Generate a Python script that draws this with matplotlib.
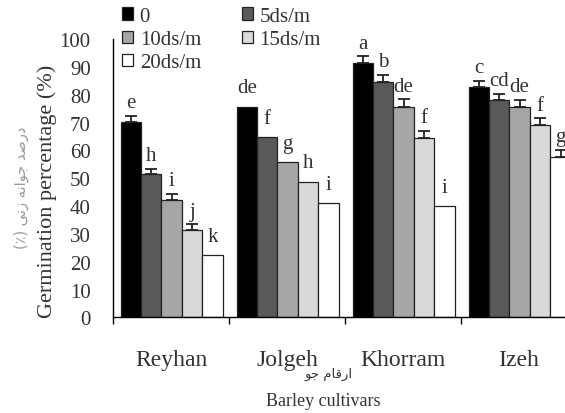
import matplotlib
matplotlib.use("Agg")
import matplotlib.pyplot as plt
import numpy as np

plt.rcParams["font.family"] = ["Liberation Serif", "DejaVu Sans"]

cultivars = ["Reyhan", "Jolgeh", "Khorram", "Izeh"]
levels = ["0", "5ds/m", "10ds/m", "15ds/m", "20ds/m"]
colors = ["#000000", "#595959", "#a6a6a6", "#d9d9d9", "#ffffff"]

# germination % per salinity level (rows) for each cultivar (columns)
germ = [
    [70.1, 75.7, 91.3, 82.7],
    [51.5, 64.9, 84.7, 78.0],
    [42.2, 55.7, 75.7, 75.7],
    [31.4, 48.8, 64.3, 69.1],
    [22.4, 41.0, 40.1, 57.7],
]
err = [
    [2.3, 0.0, 2.5, 2.2],
    [1.8, 0.0, 2.5, 2.4],
    [2.2, 0.0, 2.6, 2.4],
    [2.0, 0.0, 2.7, 2.4],
    [0.0, 0.0, 0.0, 2.5],
]
letters = [
    ["e", "de", "a", "c"],
    ["h", "f", "b", "cd"],
    ["i", "g", "de", "de"],
    ["j", "h", "f", "f"],
    ["k", "i", "i", "g"],
]

# Persian labels, pre-shaped (presentation forms, visual order)
fa_ylabel = "(\u066A) \uFEF0\uFEE7\uFEAF \uFEEA\uFEE7\uFE8D\uFEEE\uFE9F \uFEAA\uFEBB\uFEAD\uFEA9"
fa_xlabel = "\uFEEE\uFE9F \uFEE1\uFE8E\uFED7\uFEAD\uFE8D"

txt = "#333333"
fig = plt.figure(figsize=(5.65, 4.14), dpi=100)
ax = fig.add_axes([0.2, 0.2307, 0.8212, 0.6727])

centers = np.arange(len(cultivars)) + 0.5
width = 0.176
handles = []
for j, lvl in enumerate(levels):
    xs = centers + (j - 2) * width + 0.006
    b = ax.bar(xs, germ[j], width, color=colors[j], edgecolor="#222222",
               linewidth=0.9, label=lvl, zorder=2)
    handles.append(b)
    e = np.array(err[j])
    m = e > 0
    ax.errorbar(xs[m], np.array(germ[j])[m], yerr=[np.zeros(m.sum()), e[m]],
                fmt="none", ecolor="#222222", elinewidth=1.3, capsize=4,
                capthick=1.3, zorder=3)
    for k, x in enumerate(xs):
        top = germ[j][k] + err[j][k] + (1.3 if err[j][k] > 0 else 3.3)
        ax.text(x, top, letters[j][k], ha="center", va="bottom",
                fontsize=15, color=txt)

ax.set_xlim(0, 4)
ax.set_ylim(0, 100)
ax.set_yticks(np.arange(0, 101, 10))
ax.tick_params(axis="y", length=0, pad=16, labelsize=15, labelcolor=txt)
ax.set_xticks(np.arange(0, 5))
ax.set_xticklabels([])
ax.set_xticks(centers, minor=True)
ax.set_xticklabels(cultivars, minor=True)
ax.tick_params(axis="x", which="major", length=5, direction="out", width=1)
ax.tick_params(axis="x", which="minor", length=0, pad=23, labelsize=17,
               labelcolor=txt)
for s in ["top", "right"]:
    ax.spines[s].set_visible(False)
ax.spines["left"].set_linewidth(1)
ax.spines["bottom"].set_linewidth(1)

fig.text(47 / 565, 0.537, "Germination percentage (%)", rotation=90,
         ha="center", va="center", fontsize=16, color=txt)
fig.text(21 / 565, 0.547, fa_ylabel, rotation=90, ha="center", va="center",
         fontsize=10.5, color="#999999", family="DejaVu Sans")
fig.text(328 / 565, 1 - 374 / 414, fa_xlabel, ha="center", va="center",
         fontsize=9.5, color=txt, family="DejaVu Sans")
fig.text(323 / 565, 1 - 402 / 414, "Barley cultivars", ha="center",
         va="center", fontsize=13, color=txt)

order = [0, 2, 4, 1, 3]
fig.legend([handles[i] for i in order], [levels[i] for i in order],
           loc="upper left", bbox_to_anchor=(122 / 565, 1 - 8 / 414),
           ncol=2, frameon=False, fontsize=15, handlelength=0.55,
           handleheight=0.55, handletextpad=0.3, columnspacing=1.95,
           labelspacing=0.2, borderpad=0, borderaxespad=0, labelcolor=txt)

fig.savefig("out.png", dpi=100)
